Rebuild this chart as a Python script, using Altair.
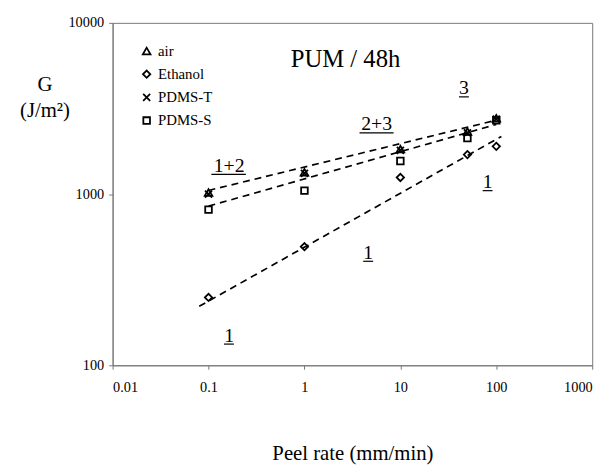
import altair as alt
import pandas as pd

# ---- data ----
rates = [0.1, 1, 10, 50, 100]
series_names = ["air", "Ethanol", "PDMS-T", "PDMS-S"]
g_air = [1020, 1340, 1830, 2320, 2770]
g_ethanol = [249, 493, 1250, 1700, 1900]
g_pdms_t = [1000, 1320, 1800, 2280, 2740]
g_pdms_s = [811, 1047, 1560, 2126, 2700]

# dashed fit lines (end points)
fit_names = ["air fit", "PDMS-S fit", "Ethanol fit"]
fit_x = [[0.1, 100], [0.1, 100], [0.08, 113]]
fit_y = [[1050, 2700], [850, 2550], [221, 2170]]

# underlined region labels
label_text = ["1+2", "2+3", "3", "1", "1", "1"]
label_x = [0.164, 5.65, 46, 81.2, 4.62, 0.164]
label_y = [1349, 2353, 3846, 1090, 419, 137]
underline_x1 = [0.107, 3.75, 40.8, 72.1, 4.10, 0.145]
underline_x2 = [0.245, 8.5, 51.8, 91.4, 5.20, 0.184]
underline_y = [1303, 2277, 3696, 1047, 405, 133]

plot_title = ["PUM / 48h"]
plot_title_x = [2.68]
plot_title_y = [5505]

x_ticks = [0.01, 0.1, 1, 10, 100, 1000]
y_ticks = [100, 1000, 10000]

# ---- tables ----
rows = []
for name, vals in zip(series_names, [g_air, g_ethanol, g_pdms_t, g_pdms_s]):
    for r, g in zip(rates, vals):
        rows.append({"series": name, "x": r, "y": g})
pts = pd.DataFrame(rows)

lrows = []
for name, xs, ys in zip(fit_names, fit_x, fit_y):
    for i, (a, b) in enumerate(zip(xs, ys)):
        lrows.append({"fit": name, "x": a, "y": b, "o": i})
lines = pd.DataFrame(lrows)

labels = pd.DataFrame({"t": label_text, "x": label_x, "y": label_y})
unders = pd.DataFrame({"x": underline_x1, "x2": underline_x2, "y": underline_y})
ttl = pd.DataFrame({"t": plot_title, "x": plot_title_x, "y": plot_title_y})

SERIF = "Liberation Serif"
AX = "#777777"

xscale = alt.Scale(type="log", domain=[0.01, 1000], nice=False)
yscale = alt.Scale(type="log", domain=[100, 10000], nice=False)
xaxis = alt.Axis(values=x_ticks, format="~g", title="Peel rate (mm/min)", grid=False,
                 tickSize=4, labelPadding=12, labelFontSize=14.5, labelFont=SERIF,
                 titleFont=SERIF, titleFontSize=21, titleFontWeight="normal",
                 titleY=89, titleBaseline="middle", titleX=243, titleAlign="center")
yaxis = alt.Axis(values=y_ticks, format="~g", title=["G", "(J/m²)"], grid=False,
                 tickSize=4, labelPadding=5, labelFontSize=14.5, labelFont=SERIF,
                 titleFont=SERIF, titleFontSize=21, titleFontWeight="normal",
                 titleAngle=0, titleX=-69, titleY=63, titleAlign="center",
                 titleBaseline="middle", titleLineHeight=26)


def X(field="x"):
    return alt.X(field, type="quantitative", scale=xscale, axis=xaxis)


def Y(field="y"):
    return alt.Y(field, type="quantitative", scale=yscale, axis=yaxis)


line_layer = alt.Chart(lines).mark_line(
    color="black", strokeWidth=1.7, strokeDash=[7, 5]
).encode(x=X(), y=Y(), detail="fit:N", order="o:Q")

legend = alt.Legend(title=None, orient="none", legendX=27, legendY=21,
                    labelFont=SERIF, labelFontSize=15, labelColor="black",
                    symbolStrokeWidth=1.8, symbolStrokeColor="black",
                    symbolFillColor="transparent", rowPadding=7.5, labelOffset=4,
                    padding=0)

point_layer = alt.Chart(pts).mark_point(
    filled=False, color="black", strokeWidth=1.8, opacity=1
).encode(
    x=X(), y=Y(),
    shape=alt.Shape("series:N",
                    scale=alt.Scale(domain=series_names,
                                    range=["triangle-up", "diamond",
                                           "M-1,-1L1,1M-1,1L1,-1", "square"]),
                    legend=legend),
    size=alt.Size("series:N",
                  scale=alt.Scale(domain=series_names, range=[60, 45, 60, 70]),
                  legend=legend),
)

text_layer = alt.Chart(labels).mark_text(
    font=SERIF, fontSize=20, baseline="alphabetic", align="center", color="black"
).encode(x=X(), y=Y(), text="t:N")

under_layer = alt.Chart(unders).mark_rule(color="black", strokeWidth=1.2).encode(
    x=X(), x2="x2:Q", y=Y()
)

title_layer = alt.Chart(ttl).mark_text(
    font=SERIF, fontSize=25, baseline="alphabetic", align="center", color="black"
).encode(x=X(), y=Y(), text="t:N")

chart = alt.layer(line_layer, point_layer, under_layer, text_layer, title_layer).properties(
    width=486, height=347,
    autosize=alt.AutoSizeParams(type="none"),
    padding={"left": 106, "top": 12, "right": 16, "bottom": 99},
    background="white",
).configure_view(stroke=AX, strokeWidth=1).configure_axis(
    domainColor=AX, tickColor=AX, labelColor="black", titleColor="black"
)

chart.save("out.html", embed_options={"renderer": "svg", "actions": False})
